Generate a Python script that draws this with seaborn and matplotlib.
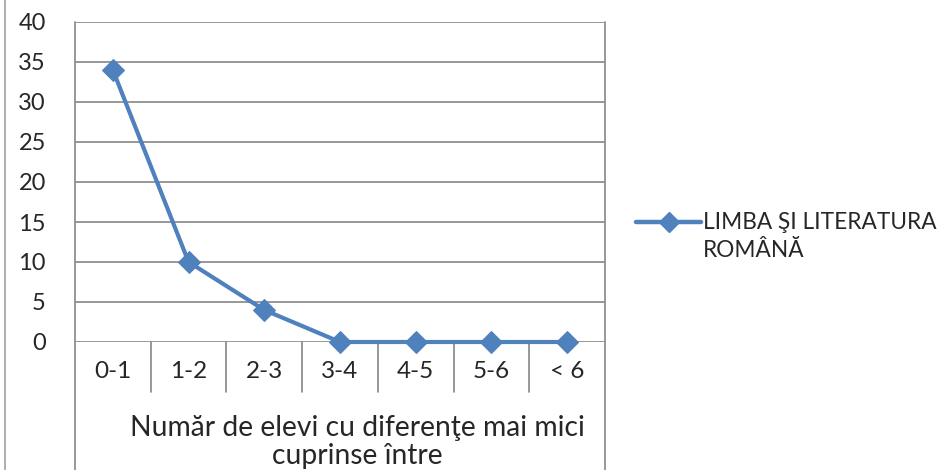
import matplotlib
matplotlib.use('Agg')
import matplotlib.pyplot as plt
import seaborn as sns
import pandas as pd
from matplotlib.lines import Line2D

# chart data
categories = ['0-1', '1-2', '2-3', '3-4', '4-5', '5-6', '< 6']
values = [34, 10, 4, 0, 0, 0, 0]
series_name = 'LIMBA ŞI LITERATURA\nROMÂNĂ'
x_title = 'Număr de elevi cu diferenţe mai mici\ncuprinse între'
y_ticks = [0, 5, 10, 15, 20, 25, 30, 35, 40]

df = pd.DataFrame({'pos': range(len(categories)), 'cat': categories, 'val': values})

sns.set_style('white')
plt.rcParams['font.family'] = ['Lato', 'DejaVu Sans']

W, H = 943, 470
fig = plt.figure(figsize=(W / 100, H / 100), dpi=100)
x0, x1, ytop, ybot = 75, 605, 22, 342
ax = fig.add_axes([x0 / W, 1 - ybot / H, (x1 - x0) / W, (ybot - ytop) / H])

blue = '#4F81BD'
grid_c = '#868686'

sns.lineplot(data=df, x='pos', y='val', ax=ax, color=blue, linewidth=3.0,
             marker='D', markersize=11, markeredgecolor=blue, legend=False,
             clip_on=False, zorder=5)

ax.set_xlim(-0.5, len(categories) - 0.5)
ax.set_ylim(0, 40)
ax.set_yticks(y_ticks)
ax.set_yticklabels([str(t) for t in y_ticks], fontsize=17)
ax.tick_params(axis='y', length=8, width=1.2, color=grid_c, pad=13)
ax.set_xticks([])
ax.set_xlabel('')
ax.set_ylabel('')
for s in ['top', 'bottom', 'left', 'right']:
    ax.spines[s].set_visible(False)
for t in y_ticks:
    ax.axhline(t, color=grid_c, linewidth=1.2, zorder=1)

# multi-level category axis drawn below the plot (axes-fraction x, pixel-derived y)
trans = ax.get_xaxis_transform()
def fy(py):
    return (ybot - py) / (ybot - ytop)

ax.plot([-0.5, -0.5], [fy(ytop), fy(H)], transform=trans, color=grid_c, lw=1.2, clip_on=False)
ax.plot([6.5, 6.5], [fy(ytop), fy(H)], transform=trans, color=grid_c, lw=1.2, clip_on=False)
for b in range(1, len(categories)):
    ax.plot([b - 0.5, b - 0.5], [fy(ybot), fy(392)], transform=trans, color=grid_c, lw=1.2, clip_on=False)
for i, c in enumerate(categories):
    ax.text(i, fy(372), c, transform=trans, ha='center', va='center', fontsize=17.5)
ax.text(357 / W, 1 - 442 / H, x_title, transform=fig.transFigure, ha='center', va='center',
        fontsize=20.3, linespacing=1.12)

# chart-area left border
fig.add_artist(Line2D([5 / W, 5 / W], [0, 1], color='#A0A0A0', lw=1.2))

# legend entry: line + marker aligned with first text line
ly = 1 - 222 / H
fig.add_artist(Line2D([636 / W, 701 / W], [ly, ly], color=blue, lw=3.2))
fig.add_artist(Line2D([669 / W], [ly], color=blue, marker='D', markersize=10, lw=0))
fig.text(703 / W, 1 - 212 / H, series_name, ha='left', va='top', fontsize=16.3,
         linespacing=1.4)

fig.savefig('out.png', dpi=100)
